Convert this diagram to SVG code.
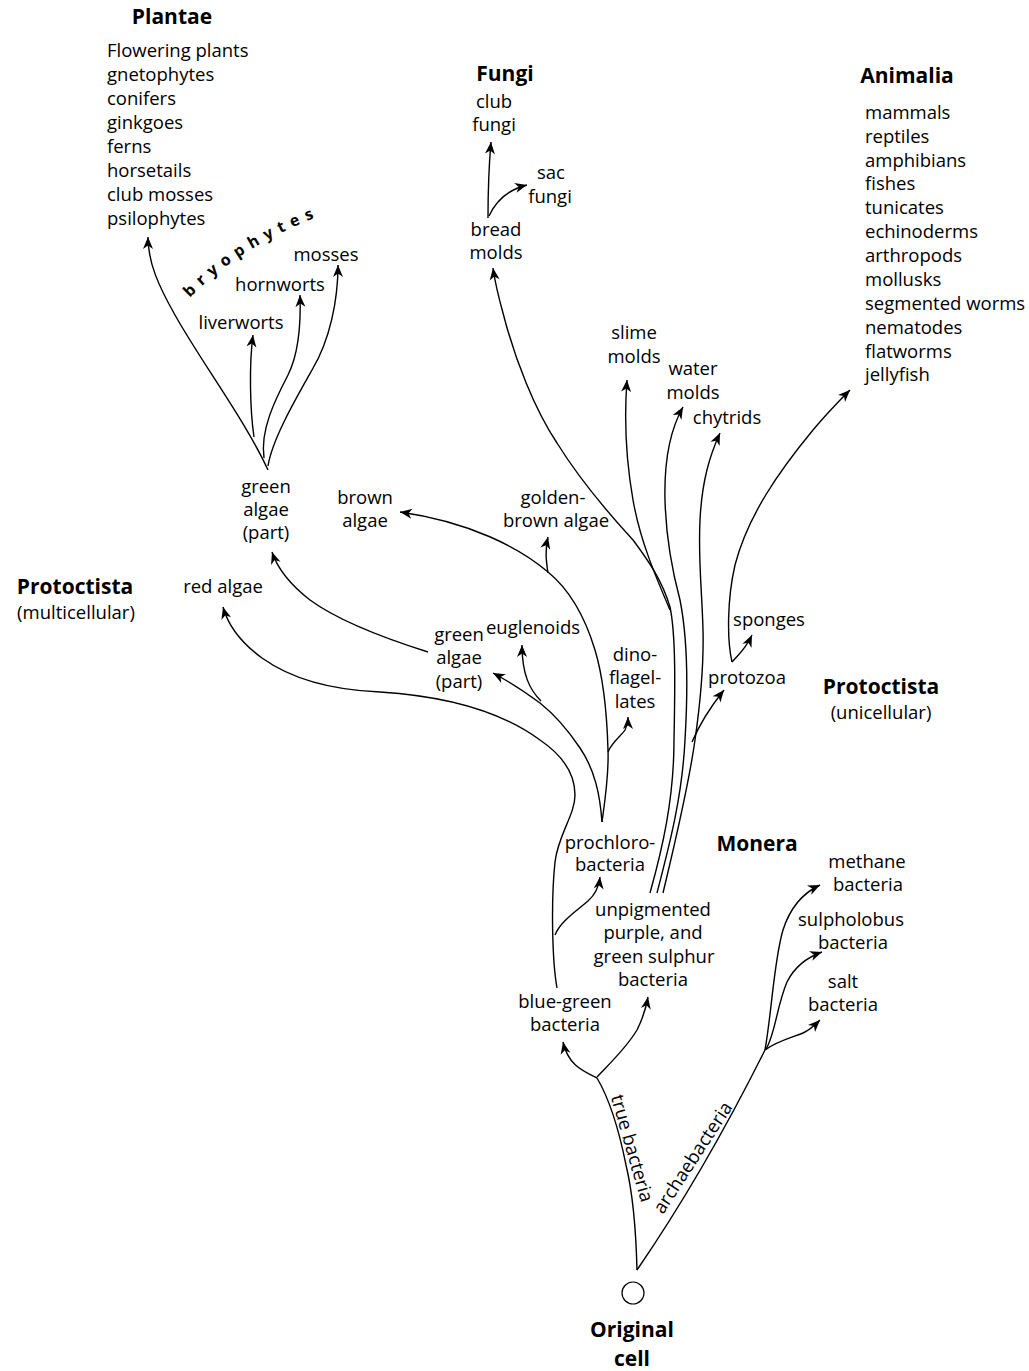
<svg xmlns="http://www.w3.org/2000/svg" width="1029" height="1371" viewBox="0 0 1029 1371">
<style>
text{font-family:"Open Sans","Noto Sans","DejaVu Sans",sans-serif;font-size:18.5px;fill:#000}
.m{text-anchor:middle}
.h{font-weight:bold;font-size:21px}
.c path{fill:none;stroke:#000;stroke-width:1.4}
.c path.a{marker-end:url(#ah)}
</style>
<defs>
<marker id="ah" markerUnits="userSpaceOnUse" viewBox="-13 -6 14 12" markerWidth="14" markerHeight="12" refX="0" refY="0" orient="auto">
<path d="M0,0 L-12,-5 L-8.5,0 L-12,5 Z" fill="#000"/>
</marker>
<path id="bryo" d="M190,298 Q242,243 336,210"/>
</defs>
<rect width="1029" height="1371" fill="#fff"/>

<g class="c" id="connectors">
<path d="M637,1270 C636,1230 632,1190 626,1165 C620,1135 610,1100 597,1078"/>
<path d="M637,1270 C685,1200 730,1120 765,1050"/>
<path class="a" d="M765,1050 C772,1010 774,960 783,930 C790,908 803,893 820,885"/>
<path class="a" d="M766,1049 C775,1035 777,1005 787,982 C795,966 808,957 822,952"/>
<path class="a" d="M765,1050 C775,1042 790,1038 803,1033 C810,1030 815,1025 820,1020"/>
<path class="a" d="M597,1078 C583,1071 568,1065 563,1042"/>
<path class="a" d="M597,1077 C605,1068 625,1050 637,1030 C642,1020 646,1008 648,997"/>
<path class="a" d="M557,988 C552,960 551,900 555,862 C558,835 575,815 575,795 C575,775 565,757 540,740 C510,718 460,697 380,692 C330,690 290,678 262,658 C240,642 228,625 223,607"/>
<path class="a" d="M555,935 C560,922 575,912 588,901 C596,894 599,886 600,877"/>
<path class="a" d="M602,822 C605,800 609,775 608,750 C607,715 604,680 595,650 C585,617 570,590 548,572 C520,548 470,522 400,512"/>
<path class="a" d="M548,573 C546,560 545,550 548,537"/>
<path class="a" d="M608,752 C612,742 622,735 625,730 C627,726 628,722 628,717"/>
<path class="a" d="M602,822 C600,795 595,770 580,748 C568,730 555,715 540,703 C525,692 510,682 493,673"/>
<path class="a" d="M541,701 C530,690 522,675 522,645"/>
<path class="a" d="M428,652 C390,640 340,622 310,600 C292,586 278,570 272,552"/>
<path class="a" d="M268,470 C245,420 200,360 175,315 C158,285 148,262 148,237"/>
<path class="a" d="M254,437 C250,410 249,365 253,335"/>
<path class="a" d="M264,458 C260,430 275,400 288,375 C298,355 301,325 300,295"/>
<path class="a" d="M268,466 C272,440 295,400 312,370 C330,340 338,300 338,265"/>
<path class="a" d="M650,893 C662,850 674,800 674,740 C675,690 676,635 670,607 C662,580 648,560 633,540 C610,515 580,480 557,443 C535,410 515,360 503,313 C498,295 495,282 493,268"/>
<path class="a" d="M670,610 C655,575 640,540 633,500 C626,460 624,420 627,380"/>
<path class="a" d="M657,893 C668,850 682,800 685,740 C688,690 688,640 680,600 C672,570 666,540 665,500 C664,460 670,430 683,407"/>
<path class="a" d="M663,893 C672,855 688,790 695,740 C700,705 704,670 703,630 C702,590 698,560 700,520 C702,480 710,455 720,433"/>
<path class="a" d="M692,742 C698,728 708,710 724,690"/>
<path class="a" d="M732,662 C738,655 745,650 752,635"/>
<path class="a" d="M732,662 C727,640 727,600 735,565 C748,515 780,470 813,430 C828,412 840,400 850,390"/>
<path class="a" d="M488,218 C488,190 489,165 491,142"/>
<path class="a" d="M489,216 C495,203 507,190 527,185"/>
</g>

<g id="plantae">
<text class="h m" x="172" y="24">Plantae</text>
<text x="107" y="57">Flowering plants</text>
<text x="107" y="81">gnetophytes</text>
<text x="107" y="105">conifers</text>
<text x="107" y="129">ginkgoes</text>
<text x="107" y="153">ferns</text>
<text x="107" y="177">horsetails</text>
<text x="107" y="201">club mosses</text>
<text x="107" y="225">psilophytes</text>
</g>
<g id="bryophytes"><text style="font-weight:bold;font-size:16px;letter-spacing:6.5px"><textPath href="#bryo">bryophytes</textPath></text></g>
<g id="mosses"><text class="m" x="326" y="261">mosses</text></g>
<g id="hornworts"><text class="m" x="280" y="291">hornworts</text></g>
<g id="liverworts"><text class="m" x="241" y="329">liverworts</text></g>
<g id="green-algae-top"><text class="m" x="266" y="493">green</text><text class="m" x="266" y="516">algae</text><text class="m" x="266" y="539">(part)</text></g>
<g id="brown-algae"><text class="m" x="365" y="504">brown</text><text class="m" x="365" y="527">algae</text></g>
<g id="golden-brown"><text class="m" x="553" y="504">golden-</text><text class="m" x="556" y="527">brown algae</text></g>
<g id="fungi"><text class="h m" x="505" y="81">Fungi</text></g>
<g id="club-fungi"><text class="m" x="494" y="108">club</text><text class="m" x="494" y="131">fungi</text></g>
<g id="sac-fungi"><text class="m" x="551" y="179">sac</text><text class="m" x="550" y="203">fungi</text></g>
<g id="bread-molds"><text class="m" x="496" y="236">bread</text><text class="m" x="496" y="259">molds</text></g>
<g id="slime-molds"><text class="m" x="634" y="339">slime</text><text class="m" x="634" y="363">molds</text></g>
<g id="water-molds"><text class="m" x="693" y="375">water</text><text class="m" x="693" y="399">molds</text></g>
<g id="chytrids"><text class="m" x="727" y="424">chytrids</text></g>
<g id="animalia">
<text class="h m" x="907" y="83">Animalia</text>
<text x="865" y="119">mammals</text>
<text x="865" y="143">reptiles</text>
<text x="865" y="167">amphibians</text>
<text x="865" y="190">fishes</text>
<text x="865" y="214">tunicates</text>
<text x="865" y="238">echinoderms</text>
<text x="865" y="262">arthropods</text>
<text x="865" y="286">mollusks</text>
<text x="865" y="310">segmented worms</text>
<text x="865" y="334">nematodes</text>
<text x="865" y="358">flatworms</text>
<text x="865" y="381">jellyfish</text>
</g>
<g id="protoctista-multi"><text class="h m" x="75" y="594">Protoctista</text><text class="m" x="76" y="619">(multicellular)</text></g>
<g id="red-algae"><text class="m" x="223" y="593">red algae</text></g>
<g id="green-algae-mid"><text class="m" x="459" y="641">green</text><text class="m" x="459" y="664">algae</text><text class="m" x="459" y="688">(part)</text></g>
<g id="euglenoids"><text class="m" x="533" y="634">euglenoids</text></g>
<g id="dinoflagellates"><text class="m" x="635" y="661">dino-</text><text class="m" x="635" y="684">flagel-</text><text class="m" x="635" y="708">lates</text></g>
<g id="sponges"><text class="m" x="769" y="626">sponges</text></g>
<g id="protozoa"><text class="m" x="747" y="684">protozoa</text></g>
<g id="protoctista-uni"><text class="h m" x="881" y="694">Protoctista</text><text class="m" x="881" y="719">(unicellular)</text></g>
<g id="prochlorobacteria"><text class="m" x="610" y="849">prochloro-</text><text class="m" x="610" y="871">bacteria</text></g>
<g id="monera"><text class="h m" x="757" y="851">Monera</text></g>
<g id="methane"><text class="m" x="867" y="868">methane</text><text class="m" x="868" y="891">bacteria</text></g>
<g id="sulpholobus"><text class="m" x="851" y="926">sulpholobus</text><text class="m" x="853" y="949">bacteria</text></g>
<g id="salt"><text class="m" x="843" y="988">salt</text><text class="m" x="843" y="1011">bacteria</text></g>
<g id="unpigmented"><text class="m" x="653" y="916">unpigmented</text><text class="m" x="653" y="939">purple, and</text><text class="m" x="654" y="963">green sulphur</text><text class="m" x="653" y="986">bacteria</text></g>
<g id="blue-green"><text class="m" x="565" y="1008">blue-green</text><text class="m" x="565" y="1031">bacteria</text></g>
<g id="true-bacteria-label"><text class="m" transform="translate(626,1150) rotate(74)">true bacteria</text></g>
<g id="archaebacteria-label"><text class="m" transform="translate(698,1161) rotate(-57)">archaebacteria</text></g>
<g id="original-cell">
<circle cx="633" cy="1293" r="11" fill="#fff" stroke="#000" stroke-width="1.2"/>
<text class="h m" x="632" y="1337">Original</text>
<text class="h m" x="632" y="1366">cell</text>
</g>
</svg>
